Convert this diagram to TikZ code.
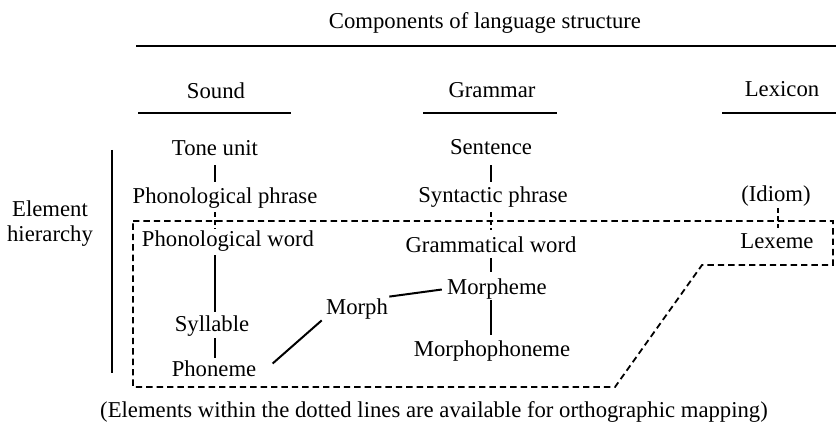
\documentclass[tikz,border=0pt]{standalone}
\usepackage{fontspec}
\setmainfont{Liberation Serif}
\usetikzlibrary{calc}
\begin{document}
\begin{tikzpicture}[x=0.5pt,y=-0.5pt,
  font=\fontsize{11.35}{12.5}\selectfont,
  lbl/.style={anchor=base,inner sep=0pt,text height=8pt,text depth=2.5pt},
  conn/.style={line width=1pt},
  dconn/.style={line width=0.9pt,dash pattern=on 2.5pt off 1.5pt},
  rulebar/.style={line width=1.1pt},
  zone/.style={line width=0.9pt,dash pattern=on 3.2pt off 2pt}]
\useasboundingbox (0,0) rectangle (836,438);

% headers
\node[lbl] (title) at (485,29) {Components of language structure};
\draw[rulebar] (136,46) -- (836,46);
\node[lbl] (sound) at (216,99) {Sound};
\node[lbl] (grammar) at (492,98) {Grammar};
\node[lbl] (lexicon) at (782,97) {Lexicon};
\draw[rulebar] (138,113) -- (291,113);
\draw[rulebar] (423,113) -- (557,113);
\draw[rulebar] (722,113) -- (836,113);

% left label
\node[align=center,inner sep=0pt] (elem) at (50,224) {Element\\hierarchy};
\draw[rulebar] (112,150) -- (112,373);

% sound column
\node[lbl] (tone) at (215,156) {Tone unit};
\node[lbl] (pphrase) at (225,204) {Phonological phrase};
\node[lbl] (pword) at (228,247) {Phonological word};
\node[lbl] (syll) at (212,332) {Syllable};
\node[lbl] (phon) at (214,377) {Phoneme};
\node[lbl] (morph) at (357,315) {Morph};

% grammar column
\node[lbl] (sent) at (491,155) {Sentence};
\node[lbl] (syn) at (493,203) {Syntactic phrase};
\node[lbl] (gword) at (491,253) {Grammatical word};
\node[lbl] (morpheme) at (497,295) {Morpheme};
\node[lbl] (mph) at (492,357) {Morphophoneme};

% lexicon column
\node[lbl] (idiom) at (776,202) {(Idiom)};
\node[lbl] (lex) at (777,249) {Lexeme};

% dashed zone
\draw[zone] (133,221) -- (833,221) -- (833,265) -- (702,265) -- (615,387) -- (133,387) -- cycle;

% connectors, sound
\draw[conn,shorten <=2pt,shorten >=3pt] (tone.south) -- (tone.south |- pphrase.north);
\draw[dconn,shorten <=1.5pt,shorten >=1pt] (tone.south |- pphrase.south) -- (tone.south |- pword.north);
\draw[conn,shorten <=1.5pt,shorten >=2pt] (tone.south |- pword.south) -- (tone.south |- syll.north);
\draw[conn,shorten <=0.5pt,shorten >=1.5pt] (tone.south |- syll.south) -- (tone.south |- phon.north);
\draw[conn] ($(phon.east)+(16,-8)$) -- ($(morph.south west)+(-4,0)$);
\draw[conn] ($(morph.north east)+(1,-2)$) -- ($(morpheme.west)+(-5,0)$);

% connectors, grammar
\draw[conn,shorten <=2.5pt,shorten >=2.5pt] (sent.south) -- (sent.south |- syn.north);
\draw[dconn,shorten <=2pt,shorten >=3.5pt] (sent.south |- syn.south) -- (sent.south |- gword.north);
\draw[conn,shorten >=3.5pt] (sent.south |- gword.south) -- (sent.south |- morpheme.north);
\draw[conn,shorten >=3pt] (sent.south |- morpheme.south) -- (sent.south |- mph.north);

% connector, lexicon
\draw[dconn,shorten <=0.5pt,shorten >=2.5pt] ([xshift=1pt]idiom.south) -- ([xshift=1pt]idiom.south |- lex.north);

% footnote
\node[lbl] (note) at (434,417) {(Elements within the dotted lines are available for orthographic mapping)};
\end{tikzpicture}
\end{document}
